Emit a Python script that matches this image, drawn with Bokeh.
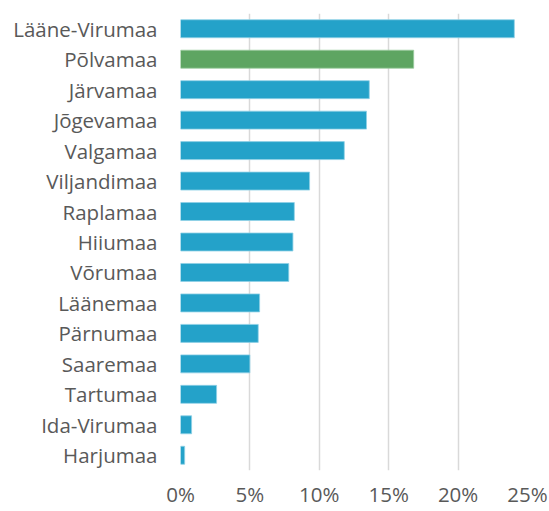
from bokeh.plotting import figure
from bokeh.models import FixedTicker, NumeralTickFormatter, ColumnDataSource, Range1d
from bokeh.embed import file_html
from bokeh.resources import INLINE

counties = ["Lääne-Virumaa", "Põlvamaa", "Järvamaa", "Jõgevamaa", "Valgamaa",
            "Viljandimaa", "Raplamaa", "Hiiumaa", "Võrumaa", "Läänemaa",
            "Pärnumaa", "Saaremaa", "Tartumaa", "Ida-Virumaa", "Harjumaa"]
values = [0.2405, 0.168, 0.136, 0.134, 0.118, 0.093, 0.082, 0.081, 0.078,
          0.057, 0.056, 0.050, 0.026, 0.008, 0.003]
highlight = "Põlvamaa"
x_ticks = [0, 0.05, 0.10, 0.15, 0.20, 0.25]

BLUE = "#24a2c9"
GREEN = "#5ea562"
colors = [GREEN if c == highlight else BLUE for c in counties]
edges = ["#8fd0e6" if c != highlight else "#9ccb9f" for c in counties]

src = ColumnDataSource(dict(county=counties, value=values, color=colors, edge=edges))

p = figure(width=549, height=511, output_backend="svg", toolbar_location=None,
           y_range=list(reversed(counties)), x_range=Range1d(0, 0.25),
           min_border_left=180, min_border_right=22, min_border_top=13,
           min_border_bottom=41)

p.hbar(y="county", right="value", left=0, height=0.59, source=src,
       fill_color="color", line_color="edge", line_width=0.8)

p.outline_line_color = None
p.background_fill_color = "white"

p.xaxis.ticker = FixedTicker(ticks=x_ticks)
p.xaxis.formatter = NumeralTickFormatter(format="0%")
p.xaxis.axis_line_color = None
p.xaxis.major_tick_line_color = None
p.xaxis.minor_tick_line_color = None
p.xaxis.major_tick_out = 0
p.xaxis.major_tick_in = 0
p.xaxis.minor_tick_out = 0
p.xaxis.major_label_standoff = 9
p.xaxis.major_label_text_baseline = "alphabetic"
p.xaxis.major_label_text_font = "Open Sans"
p.xaxis.major_label_text_font_size = "20.5px"
p.xaxis.major_label_text_color = "#595959"

p.yaxis.axis_line_color = None
p.yaxis.major_tick_line_color = None
p.yaxis.minor_tick_line_color = None
p.yaxis.major_tick_out = 0
p.yaxis.major_tick_in = 0
p.yaxis.minor_tick_out = 0
p.yaxis.major_label_standoff = 23
p.yaxis.major_label_text_font = "Open Sans"
p.yaxis.major_label_text_font_size = "20.5px"
p.yaxis.major_label_text_color = "#595959"

p.xgrid.grid_line_color = "#d9d9d9"
p.xgrid.grid_line_width = 1.5
p.ygrid.grid_line_color = None

open("out.html", "w").write(file_html(p, INLINE))
